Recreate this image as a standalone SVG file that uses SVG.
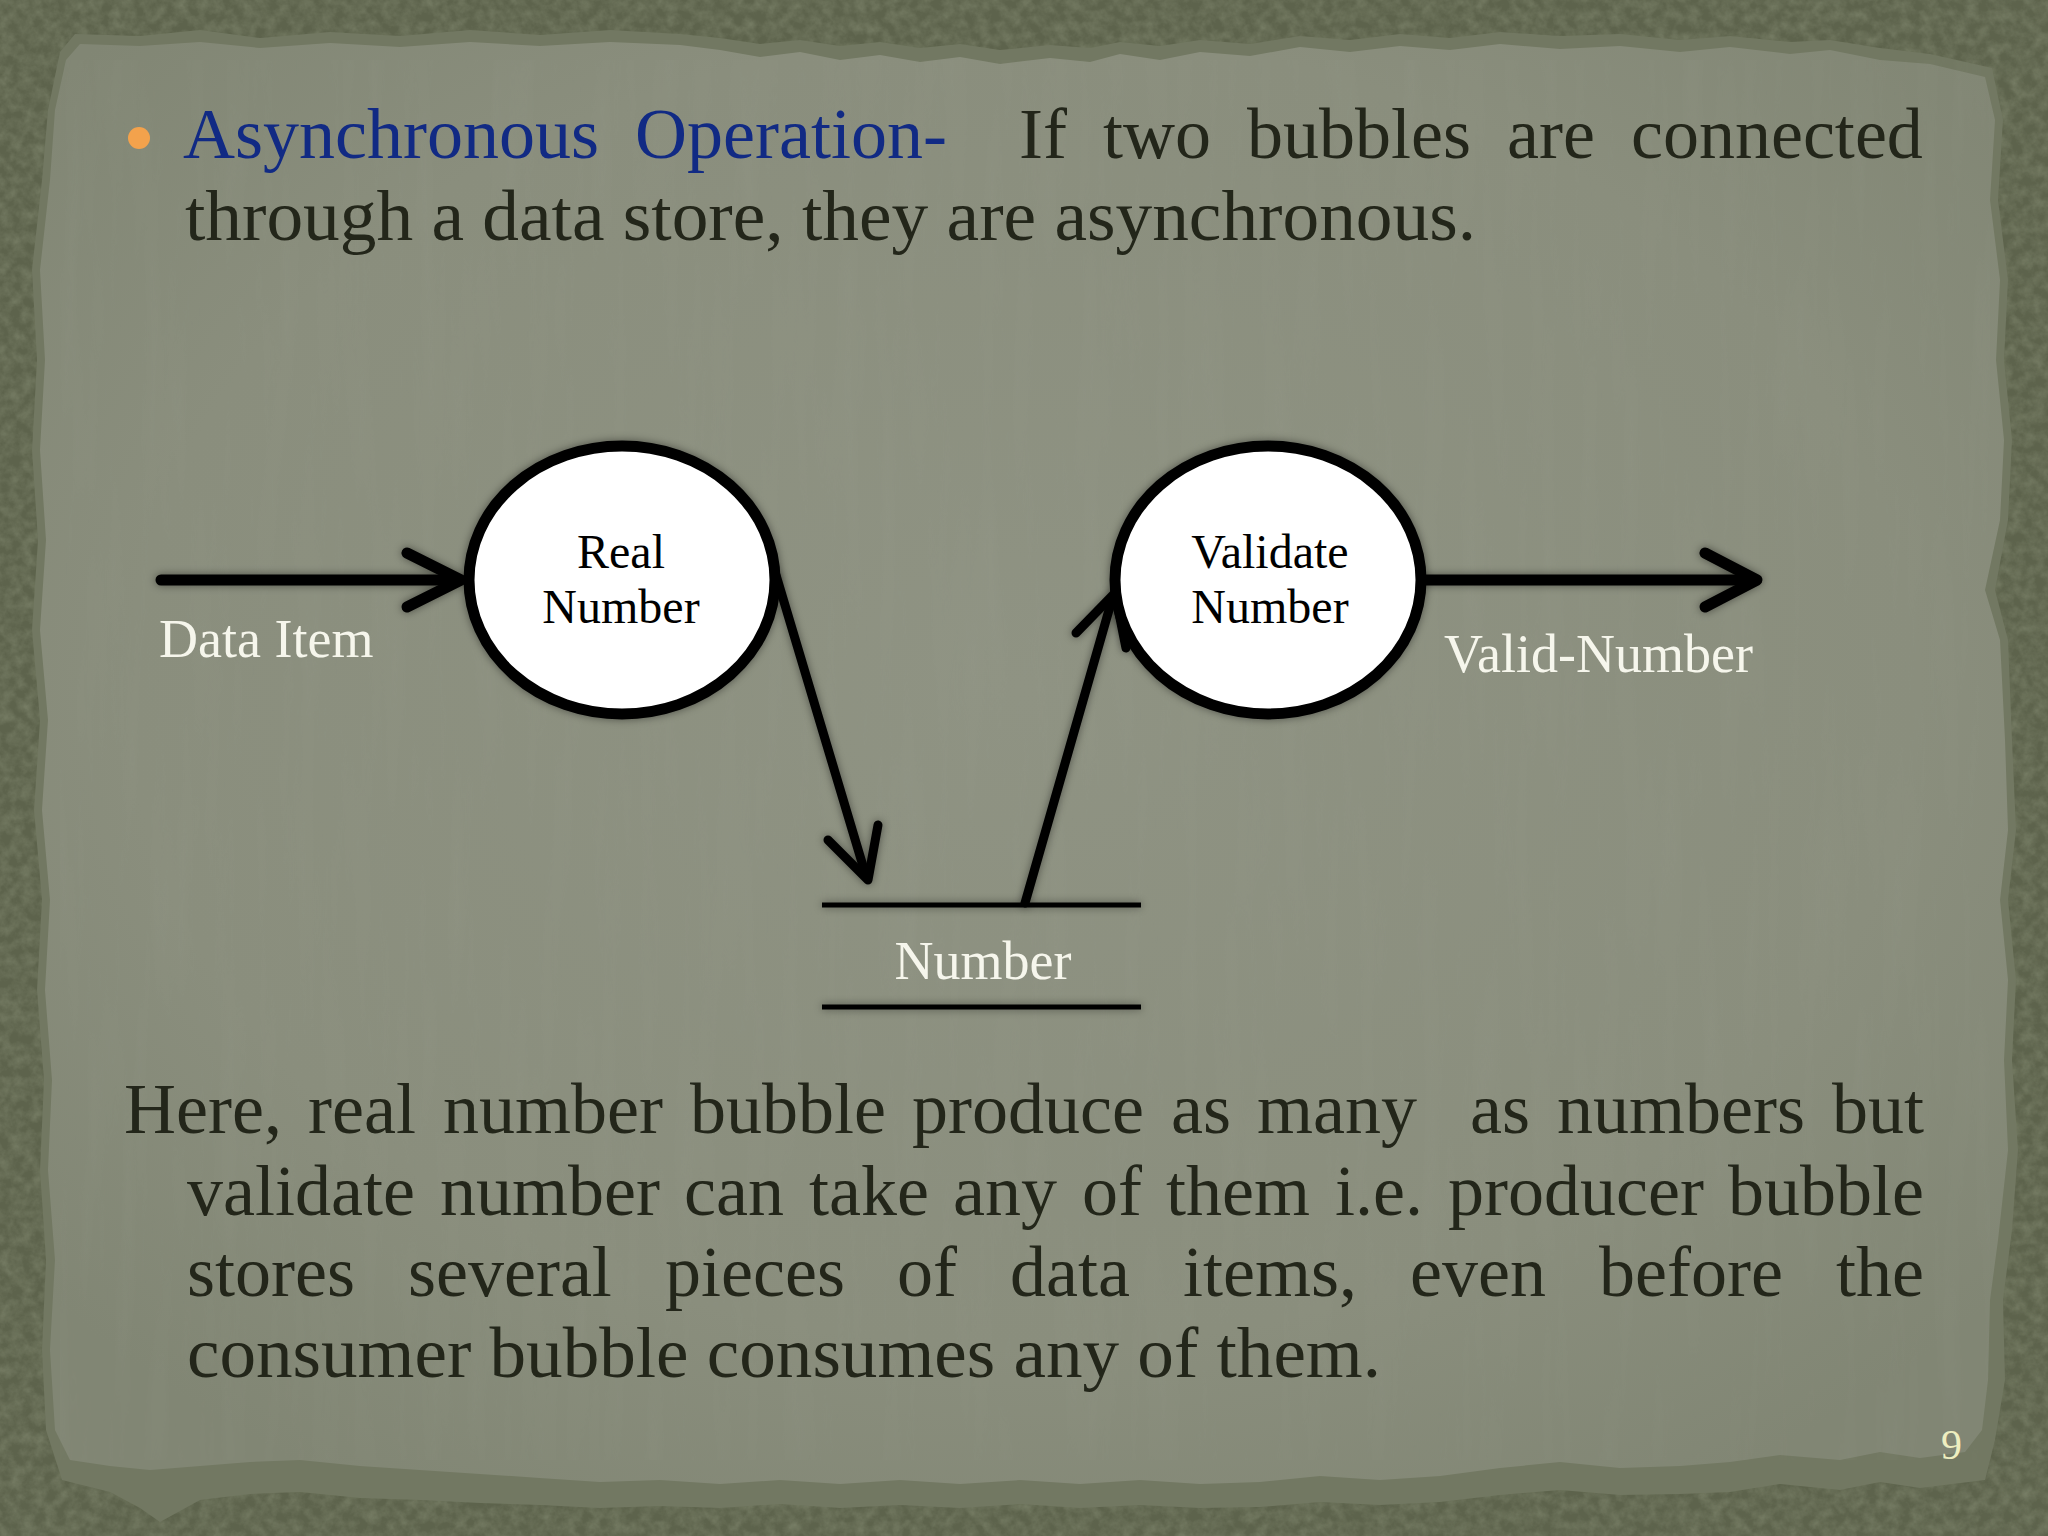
<svg xmlns="http://www.w3.org/2000/svg" width="2048" height="1536" viewBox="0 0 2048 1536">
  <defs>
    <style>
      .body { font-family: "Liberation Serif", "Times New Roman", serif; font-size: 72px; fill: #23261a; }
      .title { fill: #112a84; }
      .lbl { font-family: "Liberation Serif", "Times New Roman", serif; font-size: 48px; fill: #000; text-anchor: middle; }
      .wlbl { font-family: "Liberation Serif", "Times New Roman", serif; font-size: 54px; fill: #f6f6ec; }
      .flow { fill: none; stroke: #000; stroke-linecap: round; stroke-linejoin: round; }
      .bubble { fill: #fff; stroke: #000; stroke-width: 11; }
    </style>
    <filter id="noise" x="0" y="0" width="100%" height="100%">
      <feTurbulence type="fractalNoise" baseFrequency="0.09" numOctaves="4" seed="7" result="n"/>
      <feColorMatrix in="n" type="matrix" values="0 0 0 0 0.27  0 0 0 0 0.3  0 0 0 0 0.2  0.8 0 0 0 -0.25"/>
    </filter>
    <filter id="noise2" x="0" y="0" width="100%" height="100%">
      <feTurbulence type="fractalNoise" baseFrequency="0.05 0.004" numOctaves="3" seed="11" result="n"/>
      <feColorMatrix in="n" type="matrix" values="0 0 0 0 0.42  0 0 0 0 0.44  0 0 0 0 0.38  0.5 0 0 0 -0.2"/>
    </filter>
    <filter id="glow" x="-20%" y="-20%" width="140%" height="140%">
      <feDropShadow dx="0" dy="0" stdDeviation="4" flood-color="#000" flood-opacity="0.45"/>
    </filter>
    <radialGradient id="paper" cx="50%" cy="45%" r="65%">
      <stop offset="0" stop-color="#8f9383"/>
      <stop offset="0.7" stop-color="#8a8e7d"/>
      <stop offset="1" stop-color="#818674"/>
    </radialGradient>
    <clipPath id="panelClip">
      <rect x="40" y="40" width="1970" height="1460"/>
    </clipPath>
  </defs>

  <!-- background -->
  <rect x="0" y="0" width="2048" height="1536" fill="#5d634c"/>
  <rect x="0" y="0" width="2048" height="1536" filter="url(#noise)"/>

  <!-- torn fringe -->
  <path fill="#727862" d="M 60,52 L 75,34 L 140,36 L 200,30 L 260,38 L 330,32 L 400,36 L 470,30 L 540,35 L 610,30 L 680,34 L 720,38 L 760,44 L 800,40 L 840,46 L 880,42 L 920,48 L 960,44 L 1000,50 L 1050,45 L 1090,48 L 1120,42 L 1160,46 L 1200,40 L 1250,44 L 1300,36 L 1350,40 L 1400,34 L 1450,38 L 1500,32 L 1560,36 L 1620,34 L 1680,40 L 1730,36 L 1790,42 L 1830,40 L 1880,48 L 1930,54 L 1992,68 L 2003,120 L 1998,200 L 2008,280 L 2004,360 L 2012,440 L 2008,520 L 1995,590 L 2008,640 L 2012,740 L 2016,830 L 2008,900 L 2016,980 L 2012,1060 L 2018,1150 L 2012,1230 L 2003,1300 L 2005,1380 L 1995,1440 L 1985,1480 L 1920,1488 L 1880,1482 L 1840,1490 L 1780,1484 L 1730,1492 L 1680,1494 L 1620,1495 L 1560,1490 L 1500,1495 L 1440,1502 L 1380,1505 L 1320,1502 L 1260,1507 L 1200,1508 L 1140,1505 L 1080,1508 L 1020,1504 L 960,1508 L 900,1505 L 840,1508 L 780,1504 L 720,1508 L 660,1506 L 600,1508 L 540,1505 L 480,1503 L 420,1500 L 360,1498 L 300,1492 L 250,1494 L 200,1500 L 160,1522 L 140,1508 L 110,1492 L 62,1480 L 46,1430 L 42,1350 L 46,1260 L 40,1170 L 44,1080 L 37,990 L 42,900 L 34,810 L 40,720 L 32,630 L 38,540 L 32,450 L 37,360 L 32,270 L 42,180 L 48,110 Z"/>

  <!-- paper panel -->
  <path fill="url(#paper)" d="M 66,60 L 80,44 L 140,46 L 200,42 L 260,48 L 330,43 L 400,47 L 470,42 L 540,46 L 610,42 L 680,45 L 720,50 L 760,57 L 800,52 L 840,60 L 880,55 L 920,62 L 960,57 L 1000,64 L 1050,58 L 1090,62 L 1120,54 L 1160,60 L 1200,52 L 1250,56 L 1300,47 L 1350,52 L 1400,46 L 1450,50 L 1500,44 L 1560,49 L 1620,46 L 1680,52 L 1730,47 L 1790,54 L 1830,50 L 1880,60 L 1930,64 L 1985,77 L 1995,120 L 1990,200 L 2000,280 L 1996,360 L 2004,440 L 2000,520 L 1985,590 L 2000,640 L 2005,740 L 2008,830 L 2000,900 L 2008,980 L 2004,1060 L 2008,1150 L 1998,1240 L 1990,1300 L 1988,1380 L 1982,1430 L 1965,1452 L 1920,1458 L 1880,1452 L 1840,1460 L 1780,1455 L 1730,1462 L 1680,1466 L 1620,1468 L 1560,1462 L 1500,1468 L 1440,1476 L 1380,1480 L 1320,1476 L 1260,1482 L 1200,1484 L 1140,1480 L 1080,1484 L 1020,1480 L 960,1484 L 900,1480 L 840,1484 L 780,1480 L 720,1484 L 660,1480 L 600,1482 L 540,1478 L 480,1474 L 420,1470 L 360,1466 L 300,1460 L 250,1462 L 200,1466 L 150,1470 L 110,1466 L 70,1460 L 55,1430 L 50,1350 L 55,1260 L 48,1170 L 52,1080 L 45,990 L 50,900 L 42,810 L 48,720 L 40,630 L 46,540 L 40,450 L 45,360 L 40,270 L 50,180 L 55,110 Z"/>
  <rect x="60" y="60" width="1930" height="1400" filter="url(#noise2)" opacity="0.25"/>

  <!-- heading text -->
  <g id="heading">
    <circle cx="139" cy="138" r="11" fill="#f3a24c"/>
    <text class="body" y="158"><tspan class="title" x="183">Asynchronous</tspan><tspan class="title" x="635">Operation-</tspan><tspan x="1019">If</tspan><tspan x="1103">two</tspan><tspan x="1247">bubbles</tspan><tspan x="1507">are</tspan><tspan x="1631">connected</tspan></text>
    <text class="body" x="185" y="240" textLength="1291" lengthAdjust="spacingAndGlyphs">through a data store, they are asynchronous.</text>
  </g>

  <!-- connectors -->
  <g id="connectors" filter="url(#glow)">
    <g id="flow-data-item">
      <path class="flow" stroke-width="11" d="M 161,580 L 459,580"/>
      <path class="flow" stroke-width="11" d="M 407,553 L 461,580 L 407,607"/>
    </g>
    <g id="flow-number-out">
      <path class="flow" stroke-width="9" d="M 776,575 L 866,876"/>
      <path class="flow" stroke-width="9" d="M 828,840 L 868,880 L 878,825"/>
    </g>
    <g id="flow-number-in">
      <path class="flow" stroke-width="9" d="M 1025,903 L 1113,596"/>
      <path class="flow" stroke-width="9" d="M 1076,633 L 1115,593 L 1126,648"/>
    </g>
    <g id="flow-valid-number">
      <path class="flow" stroke-width="11" d="M 1418,580 L 1754,580"/>
      <path class="flow" stroke-width="11" d="M 1705,553 L 1757,580 L 1705,607"/>
    </g>
  </g>

  <!-- nodes -->
  <g id="node-real-number">
    <ellipse class="bubble" cx="622" cy="580" rx="153" ry="134" filter="url(#glow)"/>
    <text class="lbl" x="621" y="568">Real</text>
    <text class="lbl" x="621" y="623">Number</text>
  </g>
  <g id="node-validate-number">
    <ellipse class="bubble" cx="1268" cy="580" rx="153" ry="134" filter="url(#glow)"/>
    <text class="lbl" x="1270" y="568">Validate</text>
    <text class="lbl" x="1270" y="623">Number</text>
  </g>
  <g id="store-number">
    <g filter="url(#glow)">
      <path fill="none" stroke="#000" stroke-width="5" d="M 822,905 L 1141,905 M 822,1007 L 1141,1007"/>
    </g>
    <text class="wlbl" x="983" y="979" text-anchor="middle" font-size="56">Number</text>
  </g>

  <!-- flow labels -->
  <text class="wlbl" x="159" y="657">Data Item</text>
  <text class="wlbl" x="1444" y="672">Valid-Number</text>

  <!-- paragraph -->
  <g id="paragraph">
    <text class="body" y="1133"><tspan x="124">Here,</tspan><tspan x="308">real</tspan><tspan x="443">number</tspan><tspan x="690">bubble</tspan><tspan x="912">produce</tspan><tspan x="1171">as</tspan><tspan x="1257">many</tspan><tspan x="1470">as</tspan><tspan x="1557">numbers</tspan><tspan x="1832">but</tspan></text>
    <text class="body" y="1215"><tspan x="187">validate</tspan><tspan x="440">number</tspan><tspan x="684">can</tspan><tspan x="809">take</tspan><tspan x="953">any</tspan><tspan x="1082">of</tspan><tspan x="1166">them</tspan><tspan x="1335">i.e.</tspan><tspan x="1448">producer</tspan><tspan x="1728">bubble</tspan></text>
    <text class="body" y="1296"><tspan x="187">stores</tspan><tspan x="408">several</tspan><tspan x="665">pieces</tspan><tspan x="897">of</tspan><tspan x="1010">data</tspan><tspan x="1183">items,</tspan><tspan x="1410">even</tspan><tspan x="1599">before</tspan><tspan x="1836">the</tspan></text>
    <text class="body" x="187" y="1377" textLength="1194" lengthAdjust="spacingAndGlyphs">consumer bubble consumes any of them.</text>
  </g>

  <!-- page number -->
  <text x="1941" y="1459" font-family="Liberation Serif, serif" font-size="42" fill="#eeeec0">9</text>
</svg>
